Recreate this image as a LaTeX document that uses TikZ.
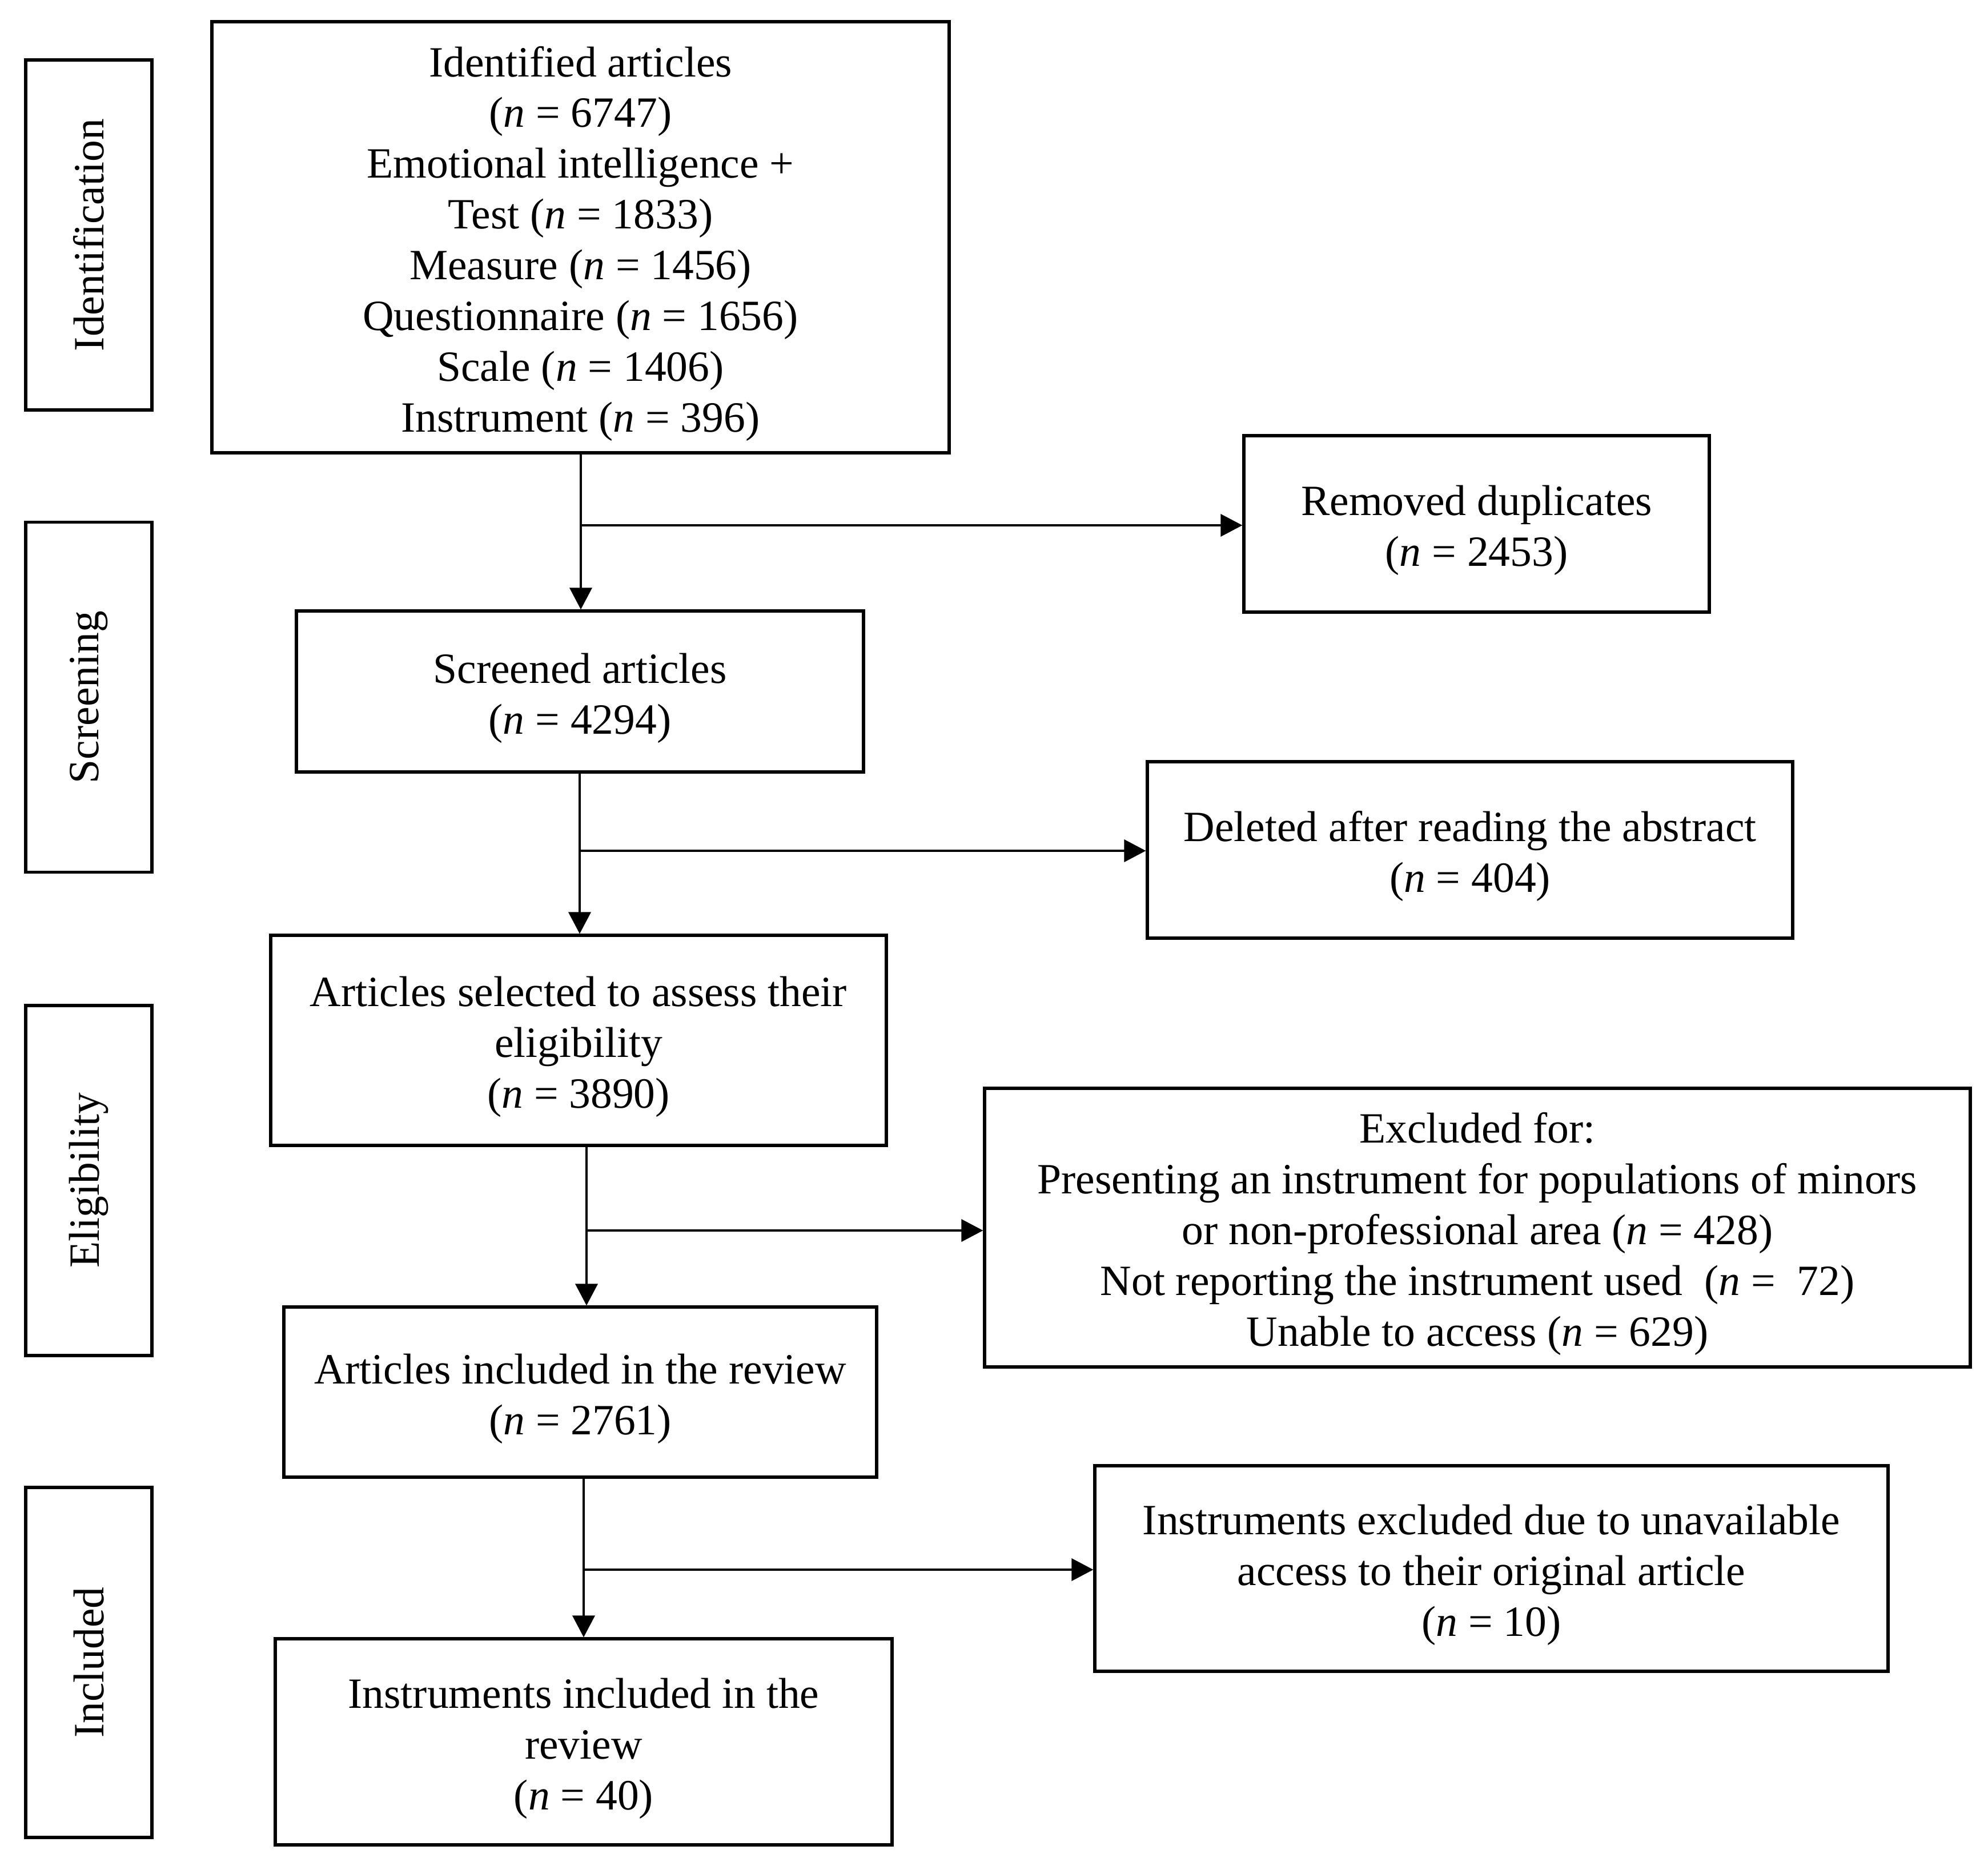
\documentclass[tikz,border=0pt]{standalone}
\usepackage{fontspec}
\setmainfont{Liberation Serif}
\usetikzlibrary{arrows.meta}
\newcommand{\nn}{\textit{n}}
\newcommand{\tx}[1]{\raisebox{-1.2mm}[\height][\depth]{\begin{tabular}{@{}c@{}}#1\end{tabular}}}
\begin{document}
\begin{tikzpicture}[
  box/.style={draw, line width=1.5pt, inner sep=0pt,
    font=\fontsize{21.5}{25.3}\selectfont},
  lab/.style={draw, line width=1.5pt, inner sep=0pt, rotate=90,
    minimum width=6.13cm, minimum height=2.21cm,
    font=\fontsize{21.5}{25.3}\selectfont},
  arr/.style={line width=1.1pt, -{Triangle[length=3.8mm,width=3.9mm]}}
]
\useasboundingbox (0,0) rectangle (34.81,-32.68);
% stage labels
\node[lab] (L1) at (1.555,-4.115) {Identification};
\node[lab] (L2) at (1.555,-12.21) {Screening};
\node[lab] (L3) at (1.555,-20.675) {Eligibility};
\node[lab] (L4) at (1.555,-29.115) {Included};
% main boxes
\node[box, minimum width=12.91cm, minimum height=7.55cm] (id) at (10.165,-4.155)
  {\tx{Identified articles\\(\nn{} = 6747)\\Emotional intelligence +\\Test (\nn{} = 1833)\\Measure (\nn{} = 1456)\\Questionnaire (\nn{} = 1656)\\Scale (\nn{} = 1406)\\Instrument (\nn{} = 396)}};
\node[box, minimum width=8.15cm, minimum height=3.09cm] (rem) at (25.855,-9.175)
  {\tx{Removed duplicates\\(\nn{} = 2453)}};
\node[box, minimum width=9.93cm, minimum height=2.82cm] (scr) at (10.155,-12.11)
  {\tx{Screened articles\\(\nn{} = 4294)}};
\node[box, minimum width=11.30cm, minimum height=3.09cm] (del) at (25.74,-14.885)
  {\tx{Deleted after reading the abstract\\(\nn{} = 404)}};
\node[box, minimum width=10.78cm, minimum height=3.68cm] (elig) at (10.13,-18.22)
  {\tx{Articles selected to assess their\\eligibility\\(\nn{} = 3890)}};
\node[box, minimum width=17.26cm, minimum height=4.88cm] (excl) at (25.87,-21.50)
  {\tx{Excluded for:\\Presenting an instrument for populations of minors\\or non-professional area (\nn{} = 428)\\Not reporting the instrument used\ \ (\nn{} =\ \ 72)\\Unable to access (\nn{} = 629)}};
\node[box, minimum width=10.38cm, minimum height=2.98cm] (incl) at (10.16,-24.38)
  {\tx{Articles included in the review\\(\nn{} = 2761)}};
\node[box, minimum width=13.89cm, minimum height=3.60cm] (iexcl) at (26.115,-27.47)
  {\tx{Instruments excluded due to unavailable\\access to their original article\\(\nn{} = 10)}};
\node[box, minimum width=10.80cm, minimum height=3.61cm] (fin) at (10.22,-30.505)
  {\tx{Instruments included in the\\review\\(\nn{} = 40)}};
% branch points
\coordinate (b1) at (10.17,-9.20);
\coordinate (b2) at (10.15,-14.90);
\coordinate (b3) at (10.27,-21.55);
\coordinate (b4) at (10.22,-27.49);
% connectors
\draw[arr] (id.south -| b1) -- (scr.north -| b1);
\draw[arr] (b1) -- (b1 -| rem.west);
\draw[arr] (scr.south -| b2) -- (elig.north -| b2);
\draw[arr] (b2) -- (b2 -| del.west);
\draw[arr] (elig.south -| b3) -- (incl.north -| b3);
\draw[arr] (b3) -- (b3 -| excl.west);
\draw[arr] (incl.south -| b4) -- (fin.north -| b4);
\draw[arr] (b4) -- (b4 -| iexcl.west);
\end{tikzpicture}
\end{document}
